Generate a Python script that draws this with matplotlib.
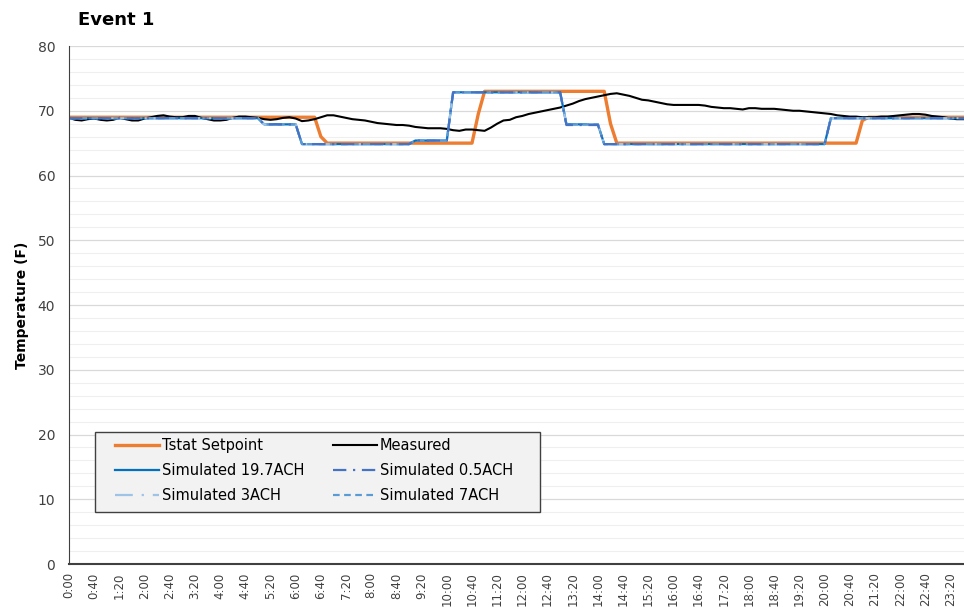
import matplotlib.pyplot as plt
from matplotlib.patches import Rectangle
from matplotlib.ticker import MultipleLocator

# 10-minute samples, 0:00 .. 23:50
times = ['%d:%02d' % (m // 60, m % 60) for m in range(0, 1440, 10)]

# thermostat setpoint (F)
setpoint = ([69] * 40 + [66] + [65] * 24 + [69.5] + [73] * 20 + [68] +
            [65] * 39 + [68.5] + [69] * 17)

# simulated zone temperatures (F) - the four cases lie on top of each other
sim_19_7 = ([68.85] * 31 + [67.9] * 6 + [64.85] * 18 + [65.4] * 6 +
            [72.85] * 18 + [67.9] * 6 + [64.85] * 36 + [68.85] * 23)
sim_0_5 = ([68.85] * 31 + [67.9] * 6 + [64.85] * 18 + [65.4] * 6 +
           [72.85] * 18 + [67.8] * 6 + [64.85] * 36 + [68.85] * 23)
sim_3 = ([68.85] * 31 + [67.9] * 6 + [64.85] * 18 + [65.4] * 6 +
         [72.85] * 18 + [67.9] * 6 + [64.85] * 36 + [68.85] * 23)
sim_7 = ([68.85] * 31 + [67.9] * 6 + [64.85] * 18 + [65.4] * 6 +
         [72.85] * 18 + [67.9] * 6 + [64.85] * 36 + [68.85] * 23)

# measured zone temperature (F)
measured = [
    68.9, 68.6, 68.5, 68.7, 68.8, 68.6, 68.5, 68.6, 68.9, 68.7, 68.5, 68.5,
    68.8, 69.0, 69.2, 69.3, 69.1, 69.0, 69.0, 69.2, 69.2, 68.9, 68.7, 68.5,
    68.5, 68.6, 68.9, 69.1, 69.1, 69.0, 68.9, 68.7, 68.6, 68.7, 68.9, 69.0,
    68.8, 68.4, 68.5, 68.7, 69.0, 69.3, 69.3, 69.1, 68.9, 68.7, 68.6, 68.5,
    68.3, 68.1, 68.0, 67.9, 67.8, 67.8, 67.7, 67.5, 67.4, 67.3, 67.3, 67.3,
    67.2, 67.0, 66.9, 67.1, 67.1, 67.0, 66.9, 67.4, 68.0, 68.5, 68.6, 69.0,
    69.2, 69.5, 69.7, 69.9, 70.1, 70.3, 70.5, 70.8, 71.1, 71.5, 71.8, 72.0,
    72.2, 72.4, 72.6, 72.7, 72.5, 72.3, 72.0, 71.7, 71.6, 71.4, 71.2, 71.0,
    70.9, 70.9, 70.9, 70.9, 70.9, 70.8, 70.6, 70.5, 70.4, 70.4, 70.3, 70.2,
    70.4, 70.4, 70.3, 70.3, 70.3, 70.2, 70.1, 70.0, 70.0, 69.9, 69.8, 69.7,
    69.6, 69.5, 69.3, 69.2, 69.1, 69.1, 69.0, 69.0, 69.0, 69.1, 69.1, 69.2,
    69.3, 69.4, 69.5, 69.5, 69.4, 69.2, 69.1, 69.0, 68.8, 68.7, 68.7, 68.7,
]

x = list(range(len(times)))

fig = plt.figure(figsize=(9.64, 6.11), dpi=100, facecolor='w')
ax = fig.add_axes([0.0716, 0.0769, 0.934, 0.8478])

l_set, = ax.plot(x, setpoint, color='#ED7D31', lw=2.4, label='Tstat Setpoint')
l_meas, = ax.plot(x, measured, color='black', lw=1.5, label='Measured')
l_197, = ax.plot(x, sim_19_7, color='#0070C0', lw=1.6, label='Simulated 19.7ACH')
l_3, = ax.plot(x, sim_3, color='#9DC3E6', lw=1.6, dashes=(8, 4, 1, 4),
               label='Simulated 3ACH')
l_7, = ax.plot(x, sim_7, color='#5B9BD5', lw=1.6, dashes=(3, 2),
               label='Simulated 7ACH')
l_05, = ax.plot(x, sim_0_5, color='#4472C4', lw=1.6, dashes=(6, 3, 1, 3),
                label='Simulated 0.5ACH')

ax.set_xlim(0, 143)
ax.set_ylim(0, 80)
ax.yaxis.set_major_locator(MultipleLocator(10))
ax.yaxis.set_minor_locator(MultipleLocator(2))
ax.grid(which='major', axis='y', color='#D9D9D9', lw=0.9)
ax.grid(which='minor', axis='y', color='#EFEFEF', lw=0.8)
ax.set_axisbelow(True)

ax.set_xticks(x[::4])
ax.set_xticklabels(times[::4], rotation=90, fontsize=8.5, color='#404040')
ax.tick_params(axis='x', length=0, pad=6)
ax.tick_params(axis='y', which='both', length=0, labelsize=10,
               labelcolor='#404040', pad=10)

for side in ['top', 'right']:
    ax.spines[side].set_visible(False)
ax.spines['left'].set_color('#404040')
ax.spines['bottom'].set_color('#404040')
ax.spines['bottom'].set_linewidth(1.5)

ax.set_ylabel('Temperature (F)', fontsize=10, fontweight='bold', labelpad=6)
fig.text(0.081, 0.968, 'Event 1', fontsize=13, fontweight='bold',
         va='center', ha='left')

# legend box drawn by hand so the padding matches
ax.add_patch(Rectangle((0.0289, 0.1004), 0.4944, 0.1544, transform=ax.transAxes,
                       facecolor='#F2F2F2', edgecolor='#404040', lw=1,
                       zorder=4))
leg = ax.legend(handles=[l_set, l_197, l_3, l_meas, l_05, l_7], ncol=2,
                loc='upper left', bbox_to_anchor=(0.0511, 0.2432),
                fontsize=10.5, frameon=False,
                handlelength=3.0, handletextpad=0.2, borderaxespad=0,
                borderpad=0, columnspacing=2.0, labelspacing=0.7)
leg.set_zorder(5)

fig.savefig('out.png', dpi=100)
